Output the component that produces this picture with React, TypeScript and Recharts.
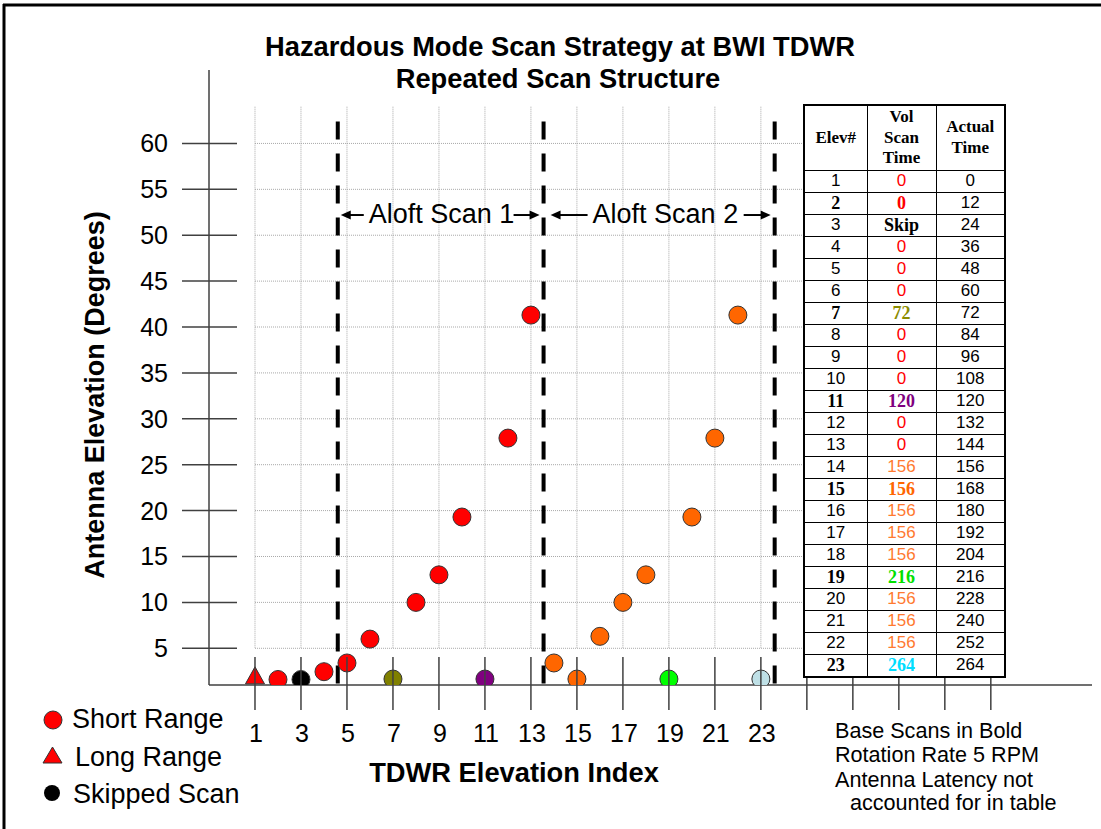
import React from 'react';
import { ScatterChart, Scatter, XAxis, YAxis, ReferenceLine } from 'recharts';

// elevation index vs antenna angle (deg)
const elevIndex = [1, 2, 3, 4, 5, 6, 7, 8, 9, 10, 11, 12, 13, 14, 15, 16, 17, 18, 19, 20, 21, 22, 23];
const elevAngle = [2.0, 1.6, 1.6, 2.45, 3.4, 6.0, 1.65, 10.0, 13.0, 19.3, 1.65, 27.9, 41.3, 3.4, 1.65, 6.3, 10.0, 13.0, 1.65, 19.3, 27.9, 41.3, 1.65];
const pointShape = ['triangle', 'circle', 'circle', 'circle', 'circle', 'circle', 'circle', 'circle', 'circle', 'circle', 'circle', 'circle', 'circle', 'circle', 'circle', 'circle', 'circle', 'circle', 'circle', 'circle', 'circle', 'circle', 'circle'];
const pointColor = [
  '#ff0000', '#ff0000', '#000000', '#ff0000', '#ff0000', '#ff0000', '#808000', '#ff0000', '#ff0000', '#ff0000',
  '#800080', '#ff0000', '#ff0000', '#ff6600', '#ff6600', '#ff6600', '#ff6600', '#ff6600', '#00ff00', '#ff6600',
  '#ff6600', '#ff6600', '#bfe0e6',
];

// table columns
const volScanTime = ['0', '0', 'Skip', '0', '0', '0', '72', '0', '0', '0', '120', '0', '0', '156', '156', '156', '156', '156', '216', '156', '156', '156', '264'];
const volColor = [
  '#ff0000', '#ff0000', '#000000', '#ff0000', '#ff0000', '#ff0000', '#8c8c00', '#ff0000', '#ff0000', '#ff0000',
  '#800080', '#ff0000', '#ff0000', '#ff7a30', '#ff6600', '#ff7a30', '#ff7a30', '#ff7a30', '#00e000', '#ff7a30',
  '#ff7a30', '#ff7a30', '#00ddff',
];
const actualTime = [0, 12, 24, 36, 48, 60, 72, 84, 96, 108, 120, 132, 144, 156, 168, 180, 192, 204, 216, 228, 240, 252, 264];
const baseScans = [2, 7, 11, 15, 19, 23];
const skippedScans = [3];

const xTicks = [1, 3, 5, 7, 9, 11, 13, 15, 17, 19, 21, 23, 25, 27, 29, 31, 33];
const xLabelMax = 23;
const yTicks = [5, 10, 15, 20, 25, 30, 35, 40, 45, 50, 55, 60];
const gridTop = 64;
const sectionBounds = [4.6, 13.55, 23.6];

const SANS = '"Liberation Sans", Arial, sans-serif';
const SERIF = '"Liberation Serif", "Times New Roman", serif';
const AXIS = '#404040';

const data = elevIndex.map((x, i) => ({ x, y: elevAngle[i], shape: pointShape[i], color: pointColor[i] }));

const Marker = (props: any) => {
  const { cx, cy, payload } = props;
  if (payload.shape === 'triangle') {
    return <path d={`M${cx},${cy - 9} L${cx + 9.5},${cy + 8} L${cx - 9.5},${cy + 8} Z`} fill={payload.color} stroke="#333" strokeWidth={1} />;
  }
  return <circle cx={cx} cy={cy} r={9} fill={payload.color} stroke="#333" strokeWidth={1} />;
};

const XTick = ({ x, y, payload }: any) => (
  <g>
    <line x1={x} x2={x} y1={y - 28} y2={y + 25} stroke={AXIS} strokeWidth={1.5} />
    {payload.value <= xLabelMax && (
      <text x={x + 1} y={y + 57} textAnchor="middle" fontSize={25} fontFamily={SANS} fill="#000">
        {payload.value}
      </text>
    )}
  </g>
);

const YTick = ({ x, y, payload }: any) => (
  <g>
    <line x1={x - 27} x2={x + 28} y1={y} y2={y} stroke={AXIS} strokeWidth={1.5} />
    <text x={x - 41} y={y + 9} textAnchor="end" fontSize={25} fontFamily={SANS} fill="#000">
      {payload.value}
    </text>
  </g>
);

const ArrowHead = ({ x, y, dir }: { x: number; y: number; dir: number }) => (
  <path d={`M${x},${y} L${x - dir * 10},${y - 4.5} L${x - dir * 10},${y + 4.5} Z`} fill="#000" />
);

const AloftArrow = (props: any) => {
  const { x1, x2, y1, text, gapL, lenL, lenR } = props;
  const y = y1;
  const lStart = x1 + gapL;
  const rEnd = x2 - 4;
  return (
    <g>
      <line x1={lStart + 8} x2={lStart + lenL} y1={y} y2={y} stroke="#000" strokeWidth={2} />
      <ArrowHead x={lStart} y={y} dir={-1} />
      <text x={lStart + lenL + 5} y={y + 8} fontSize={27} fontFamily={SANS} fill="#000">
        {text}
      </text>
      <line x1={rEnd - lenR} x2={rEnd - 8} y1={y} y2={y} stroke="#000" strokeWidth={2} />
      <ArrowHead x={rEnd} y={y} dir={1} />
    </g>
  );
};

const cell: React.CSSProperties = {
  borderTop: '1px solid #000',
  borderLeft: '1px solid #000',
  padding: 0,
  textAlign: 'center',
  height: 21,
  lineHeight: '20px',
};

function ScanTable() {
  return (
    <table
      style={{
        position: 'absolute',
        left: 803,
        top: 104,
        width: 203,
        height: 570,
        borderCollapse: 'collapse',
        background: '#fff',
        border: '2px solid #000',
        tableLayout: 'fixed',
      }}
    >
      <colgroup>
        <col style={{ width: 63 }} />
        <col style={{ width: 69 }} />
        <col style={{ width: 69 }} />
      </colgroup>
      <thead>
        <tr style={{ height: 65 }}>
          {['Elev#', 'Vol\nScan\nTime', 'Actual\nTime'].map((h) => (
            <th
              key={h}
              style={{
                ...cell,
                borderTop: 'none',
                fontFamily: SERIF,
                fontSize: 17,
                fontWeight: 'bold',
                lineHeight: '20.5px',
                whiteSpace: 'pre-line',
              }}
            >
              {h}
            </th>
          ))}
        </tr>
      </thead>
      <tbody>
        {elevIndex.map((e, i) => {
          const base = baseScans.includes(e);
          const volBold = base || skippedScans.includes(e);
          return (
            <tr key={e}>
              <td style={{ ...cell, fontFamily: base ? SERIF : SANS, fontWeight: base ? 'bold' : 'normal', fontSize: base ? 18 : 17 }}>{e}</td>
              <td
                style={{
                  ...cell,
                  color: volColor[i],
                  fontFamily: volBold ? SERIF : SANS,
                  fontWeight: volBold ? 'bold' : 'normal',
                  fontSize: volBold ? 18 : 17,
                }}
              >
                {volScanTime[i]}
              </td>
              <td style={{ ...cell, fontFamily: SANS, fontSize: 17 }}>{actualTime[i]}</td>
            </tr>
          );
        })}
      </tbody>
    </table>
  );
}

function Overlay() {
  return (
    <svg width={1101} height={829} style={{ position: 'absolute', left: 0, top: 0, pointerEvents: 'none' }}>
      <line x1={3} x2={1101} y1={5} y2={5} stroke="#000" strokeWidth={3} />
      <line x1={4} x2={4} y1={4} y2={829} stroke="#000" strokeWidth={3} />
      <text x={560} y={56} textAnchor="middle" fontSize={27.3} fontWeight="bold" fontFamily={SANS}>
        Hazardous Mode Scan Strategy at BWI TDWR
      </text>
      <text x={558} y={88} textAnchor="middle" fontSize={27.3} fontWeight="bold" fontFamily={SANS}>
        Repeated Scan Structure
      </text>
      <text transform="translate(104,395) rotate(-90)" textAnchor="middle" fontSize={27} fontWeight="bold" fontFamily={SANS}>
        Antenna Elevation (Degrees)
      </text>
      <text x={514} y={782} textAnchor="middle" fontSize={27.3} fontWeight="bold" fontFamily={SANS}>
        TDWR Elevation Index
      </text>

      <circle cx={53} cy={720} r={9} fill="#ff0000" stroke="#333" />
      <text x={72} y={728} fontSize={27} fontFamily={SANS}>Short Range</text>
      <path d="M52.5,747 L62,763 L43,763 Z" fill="#ff0000" stroke="#333" />
      <text x={75} y={766} fontSize={27} fontFamily={SANS}>Long Range</text>
      <circle cx={52} cy={793} r={8} fill="#000" />
      <text x={73} y={803} fontSize={27} fontFamily={SANS}>Skipped Scan</text>

      <g fontSize={21.6} fontFamily={SANS}>
        <text x={835} y={738}>Base Scans in Bold</text>
        <text x={835} y={762}>Rotation Rate 5 RPM</text>
        <text x={835} y={787}>Antenna Latency not</text>
        <text x={850} y={810}>accounted for in table</text>
      </g>
    </svg>
  );
}

export default function App() {
  return (
    <div style={{ position: 'absolute', left: 0, top: 0, width: 1101, height: 829, background: '#fff' }}>
      <ScatterChart width={1101} height={829} margin={{ top: 70, right: 9, bottom: 84, left: 109 }}>
        <XAxis
          type="number"
          dataKey="x"
          domain={[-1, 37.4]}
          ticks={xTicks}
          interval={0}
          allowDataOverflow
          height={60}
          tickSize={0}
          tickMargin={0}
          tickLine={false}
          axisLine={{ stroke: AXIS, strokeWidth: 1.5 }}
          tick={<XTick />}
        />
        <YAxis
          type="number"
          dataKey="y"
          domain={[1, 68]}
          ticks={yTicks}
          interval={0}
          allowDataOverflow
          width={100}
          tickSize={0}
          tickMargin={0}
          tickLine={false}
          axisLine={{ stroke: AXIS, strokeWidth: 1.5 }}
          tick={<YTick />}
        />
        {yTicks.map((v) => (
          <ReferenceLine
            key={`h${v}`}
            segment={[{ x: xTicks[0], y: v }, { x: xTicks[xTicks.length - 1], y: v }]}
            stroke="#a8a8a8"
            strokeDasharray="1 1"
          />
        ))}
        {xTicks.map((v) => (
          <ReferenceLine
            key={`v${v}`}
            segment={[{ x: v, y: gridTop }, { x: v, y: yTicks[0] }]}
            stroke="#a8a8a8"
            strokeDasharray="1 1"
          />
        ))}
        {sectionBounds.map((v) => (
          <ReferenceLine
            key={`d${v}`}
            segment={[{ x: v, y: 62.4 }, { x: v, y: 0.9 }]}
            ifOverflow="visible"
            stroke="#000"
            strokeWidth={4}
            strokeDasharray="18 14"
          />
        ))}
        <ReferenceLine
          segment={[{ x: sectionBounds[0], y: 52.2 }, { x: sectionBounds[1], y: 52.2 }]}
          shape={(p: any) => <AloftArrow {...p} text="Aloft Scan 1" gapL={3} lenL={23} lenR={26} />}
        />
        <ReferenceLine
          segment={[{ x: sectionBounds[1], y: 52.2 }, { x: sectionBounds[2], y: 52.2 }]}
          shape={(p: any) => <AloftArrow {...p} text="Aloft Scan 2" gapL={7} lenL={37} lenR={27} />}
        />
        <Scatter data={data} shape={<Marker />} isAnimationActive={false} />
      </ScatterChart>
      <ScanTable />
      <Overlay />
    </div>
  );
}
